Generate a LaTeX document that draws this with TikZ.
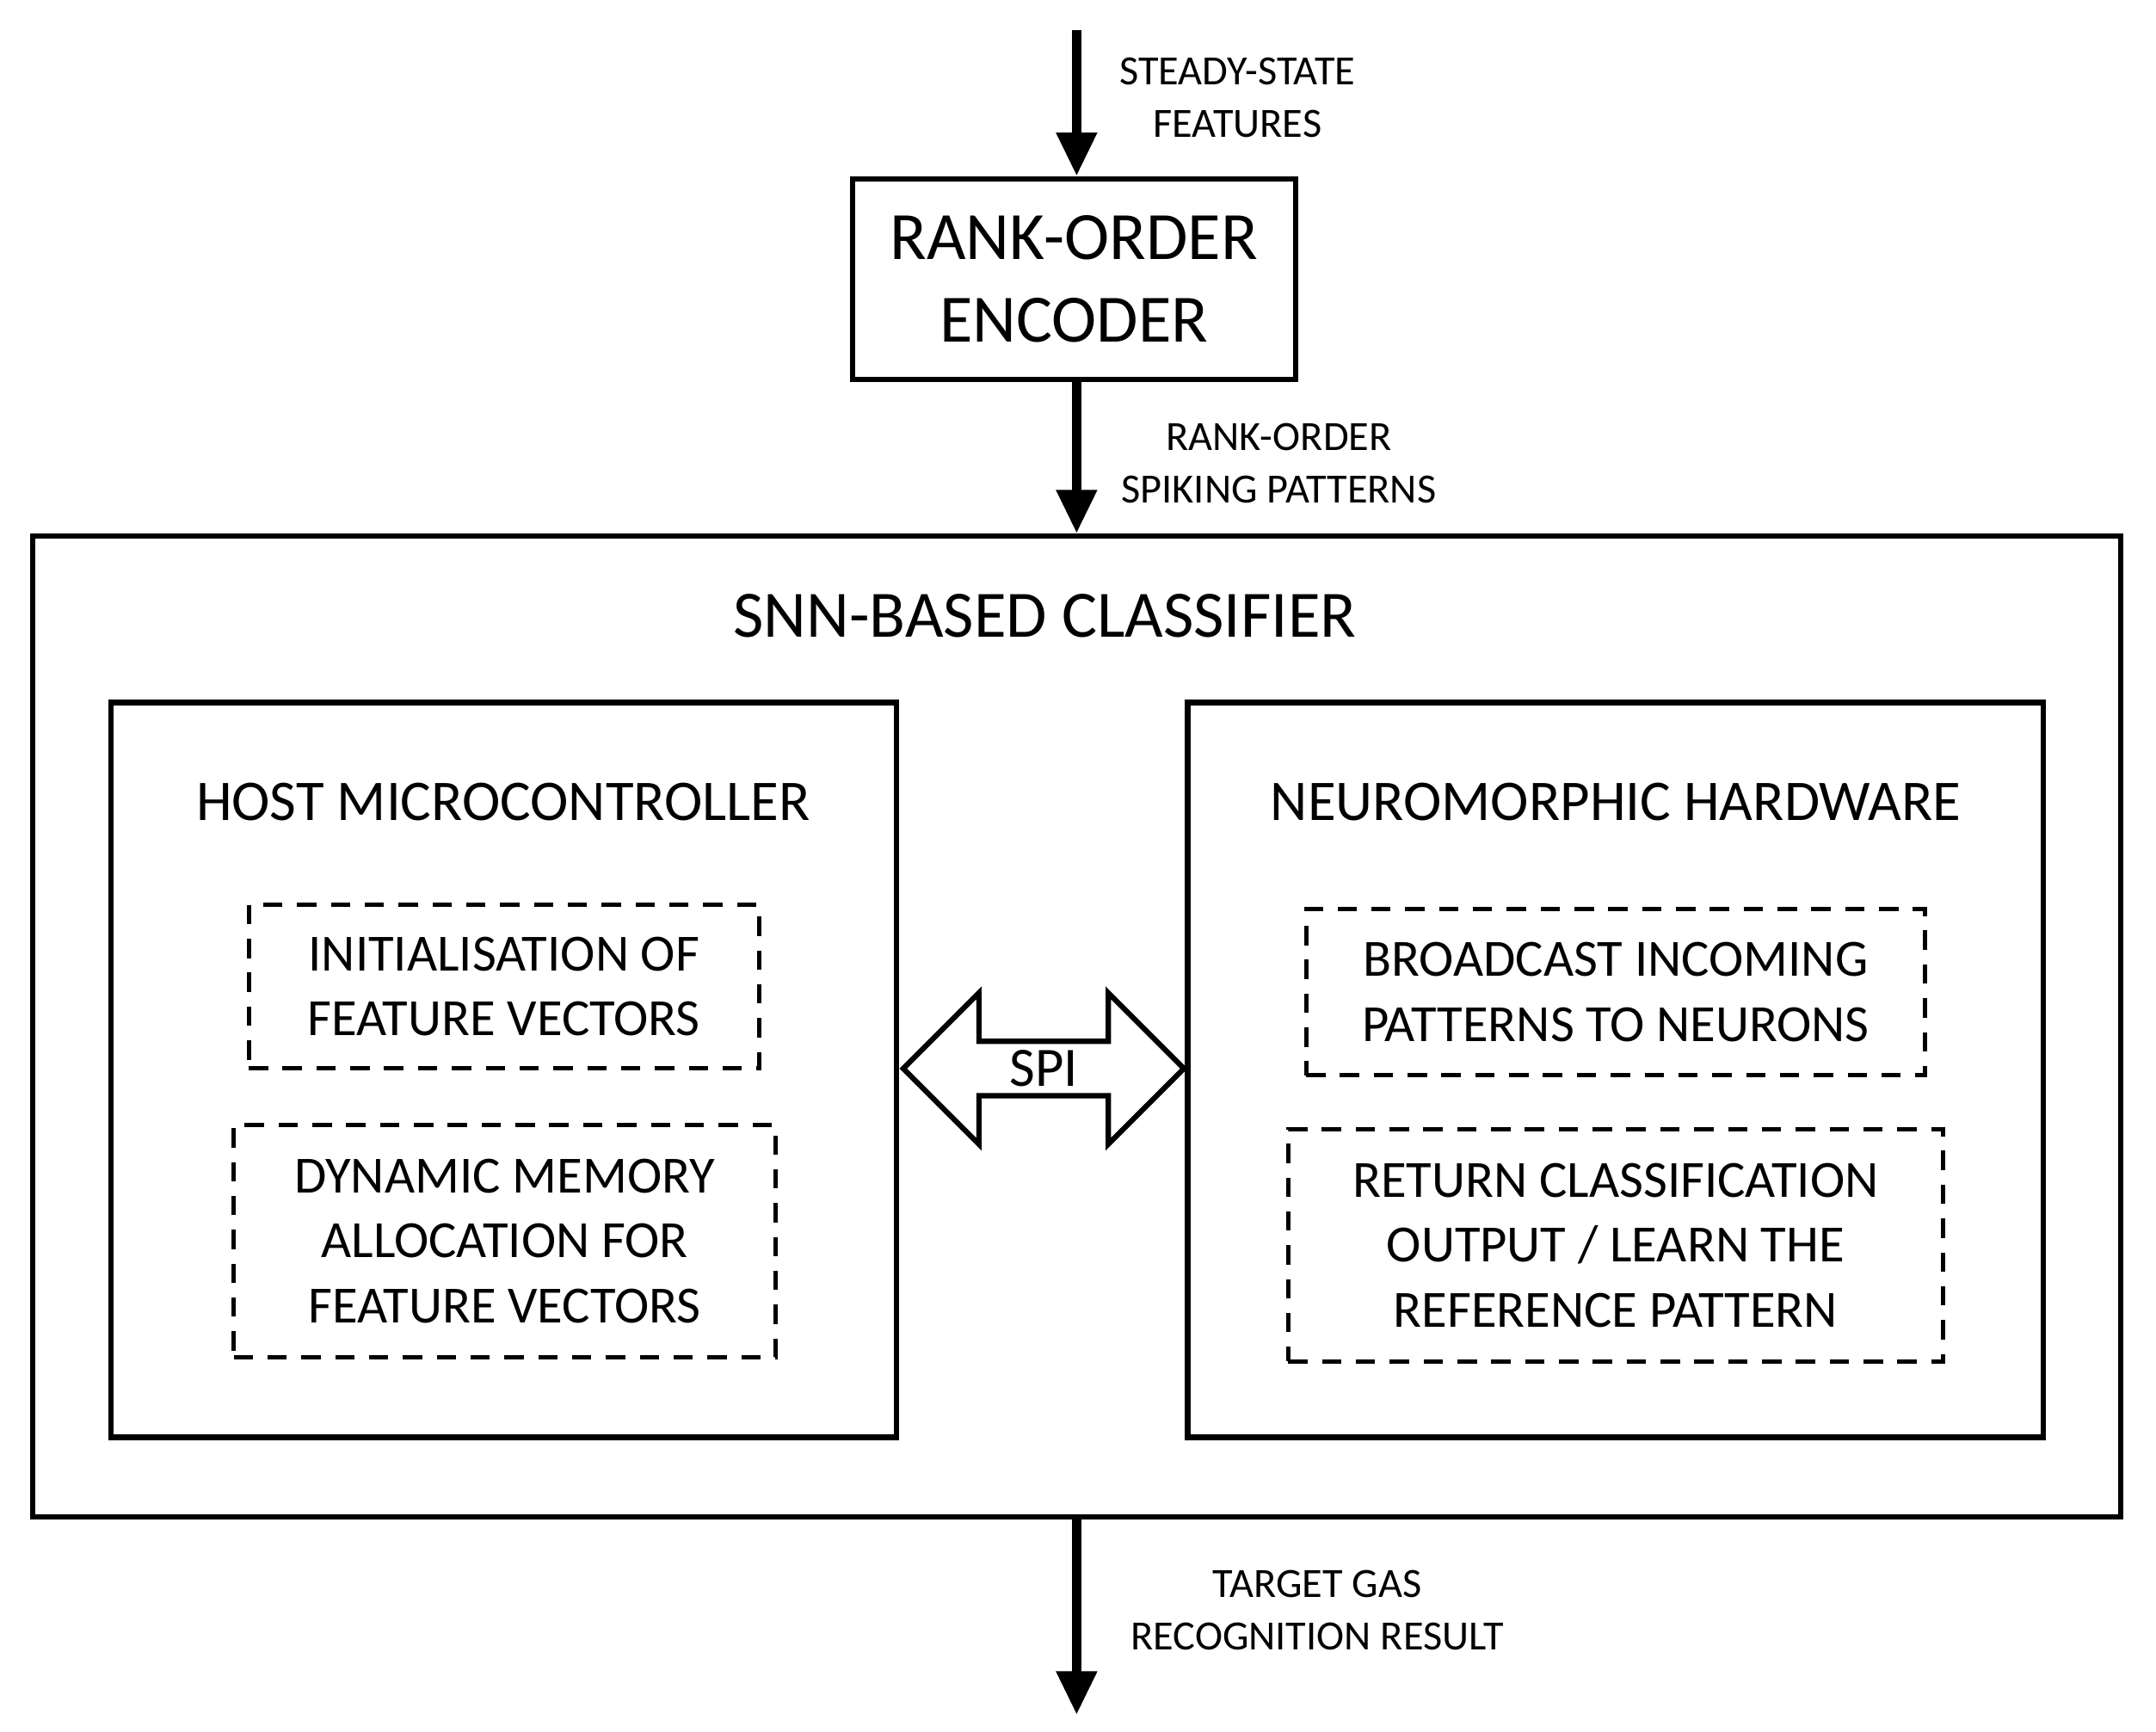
\documentclass[tikz,border=0pt]{standalone}
\usepackage{fontspec}
\setmainfont{Carlito}
\usetikzlibrary{shapes.arrows,arrows.meta}
\begin{document}
\begin{tikzpicture}[x=0.01cm,y=-0.01cm,
  box/.style={draw,line width=1.1pt,inner sep=0pt},
  dbox/.style={draw,dashed,line width=0.9pt,dash pattern=on 4pt off 3pt,align=center,font=\fontsize{10.8}{13.4}\selectfont,inner sep=0pt},
  lbl/.style={align=center,font=\fontsize{8.6}{10.8}\selectfont},
  flow/.style={line width=2pt,-{Triangle[length=9pt,width=8pt]}}]
\useasboundingbox (0,0) rectangle (1568,1259);
\node[box,minimum width=3.22cm,minimum height=1.46cm,align=center,font=\fontsize{14}{17}\selectfont] (enc) at (781,203) {RANK-ORDER\\ENCODER};
\node[box,minimum width=15.18cm,minimum height=7.13cm] (snn) at (783,746.5) {};
\node[font=\fontsize{13.7}{16}\selectfont] (snnt) at (760,448) {SNN-BASED CLASSIFIER};
\node[box,minimum width=5.71cm,minimum height=5.34cm] (host) at (366.5,778) {};
\node[font=\fontsize{11.9}{15}\selectfont] (hostt) at (366,583) {HOST MICROCONTROLLER};
\node[box,minimum width=6.22cm,minimum height=5.34cm] (neu) at (1175,778) {};
\node[font=\fontsize{11.9}{15}\selectfont] (neut) at (1175,583) {NEUROMORPHIC HARDWARE};
\node[dbox,minimum width=3.71cm,minimum height=1.19cm] (d1) at (366.5,717.5) {INITIALISATION OF\\FEATURE VECTORS};
\node[dbox,minimum width=3.94cm,minimum height=1.69cm] (d2) at (367,902.5) {DYNAMIC MEMORY\\ALLOCATION FOR\\FEATURE VECTORS};
\node[dbox,minimum width=4.50cm,minimum height=1.21cm] (d3) at (1175,721.5) {BROADCAST INCOMING\\PATTERNS TO NEURONS};
\node[dbox,minimum width=4.76cm,minimum height=1.69cm] (d4) at (1175,905.5) {RETURN CLASSIFICATION\\OUTPUT / LEARN THE\\REFERENCE PATTERN};
\node[double arrow,draw,line width=1.1pt,minimum width=1.10cm,minimum height=2.04cm,double arrow head extend=0.27cm,double arrow tip angle=90,inner sep=0pt,font=\fontsize{11.5}{14}\selectfont] (spi) at (759,777) {SPI};
\coordinate (top) at (783,22);
\coordinate (bot) at (783,1247);
\draw[flow] (top) -- (enc.north -| top);
\draw[flow] (enc.south -| top) -- (snn.north -| top);
\draw[flow] (snn.south -| top) -- (bot);
\node[lbl] (l1) at (900,71) {STEADY-STATE\\FEATURES};
\node[lbl] (l2) at (930,337) {RANK-ORDER\\SPIKING PATTERNS};
\node[lbl] (l3) at (958,1171) {TARGET GAS\\RECOGNITION RESULT};
\end{tikzpicture}
\end{document}
